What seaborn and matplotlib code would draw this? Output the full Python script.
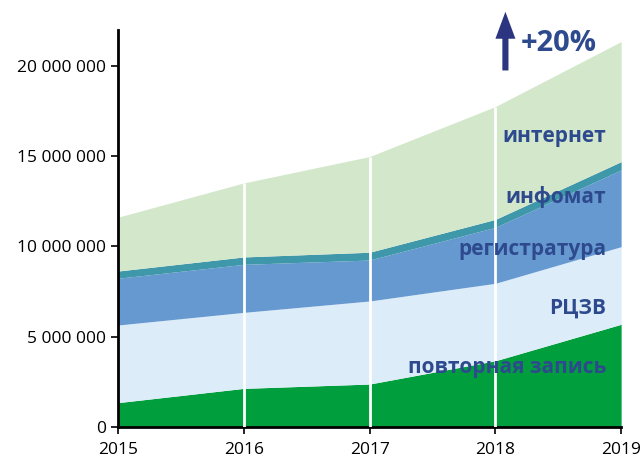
import numpy as np
import pandas as pd
import seaborn as sns
import matplotlib
matplotlib.use("Agg")
import matplotlib.pyplot as plt
from matplotlib.ticker import FuncFormatter

years = [2015, 2016, 2017, 2018, 2019]
series_names = ["повторная запись", "РЦЗВ", "регистратура", "инфомат", "интернет"]
povtornaya = [1.35e6, 2.14e6, 2.38e6, 3.67e6, 5.69e6]
rczv = [4.30e6, 4.21e6, 4.60e6, 4.29e6, 4.30e6]
registratura = [2.59e6, 2.66e6, 2.27e6, 3.10e6, 4.25e6]
infomat = [0.40e6, 0.41e6, 0.43e6, 0.44e6, 0.46e6]
internet = [2.98e6, 4.10e6, 5.30e6, 6.25e6, 6.65e6]
colors = ["#009E3C", "#DDECF9", "#6699D0", "#3F97AA", "#D3E7CB"]
label_y = [3.27e6, 6.59e6, 9.81e6, 12.74e6, 16.07e6]

sns.set_theme(style="ticks")
plt.rcParams["font.family"] = ["Open Sans", "DejaVu Sans"]

df = pd.DataFrame({"year": years, "повторная запись": povtornaya, "РЦЗВ": rczv,
                   "регистратура": registratura, "инфомат": infomat, "интернет": internet})

fig = plt.figure(figsize=(6.43, 4.59), dpi=100)
ax = fig.add_axes([0.1835, 0.0697, 0.7825, 0.8653])

ax.stackplot(df["year"], [df[n] for n in series_names], colors=colors, linewidth=0)

# white drop lines at the inner years
total = df[series_names].sum(axis=1)
for yr, tot in zip(df["year"][1:-1], total[1:-1]):
    ax.vlines(yr, 0, tot, color="white", linewidth=2, zorder=3)

ax.set_xlim(2015, 2019)
ax.set_ylim(0, 22e6)
ax.set_xticks(years)
ax.set_yticks([0, 5e6, 10e6, 15e6, 20e6])
ax.yaxis.set_major_formatter(FuncFormatter(lambda v, p: f"{int(v):,}".replace(",", " ")))
ax.tick_params(axis="both", labelsize=12.5, length=5, width=1.2, colors="black", direction="out")
ax.tick_params(axis="x", pad=6)
for sp in ["left", "bottom"]:
    ax.spines[sp].set_linewidth(2)
    ax.spines[sp].set_color("black")
sns.despine(ax=ax)

text_color = "#2E4A8E"
for name, ly in zip(series_names, label_y):
    ax.text(2018.88, ly, name, ha="right", va="center", fontsize=15,
            fontweight="bold", color=text_color, zorder=4)

ax.annotate("", xy=(2018.08, 23.0e6), xytext=(2018.08, 19.75e6),
            arrowprops=dict(arrowstyle="simple,head_width=0.72,head_length=0.97,tail_width=0.22",
                            mutation_scale=20, color="#2B3580", lw=0,
                            shrinkA=0, shrinkB=0),
            annotation_clip=False)
ax.text(2018.2, 21.25e6, "+20%", ha="left", va="center", fontsize=21,
        fontweight="bold", color=text_color, clip_on=False)

fig.savefig("out.png", dpi=100)
